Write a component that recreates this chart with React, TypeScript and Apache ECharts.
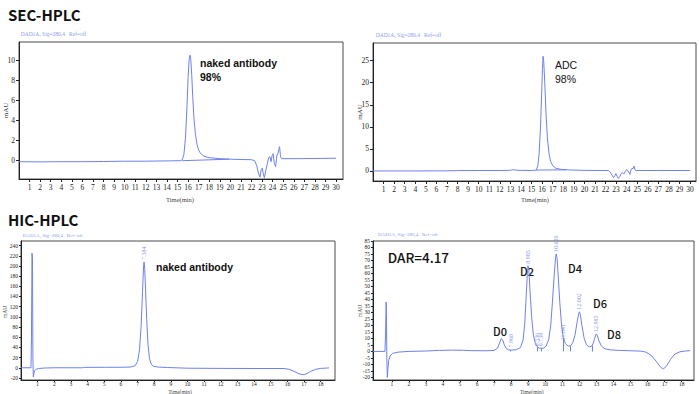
import React, { useEffect, useRef } from "react";
import * as echarts from "echarts";

// SEC-HPLC naked antibody: [time(min), mAU]
const secNaked: number[][] = [
  [0, -0.1], [2, -0.12], [4, -0.1], [6, -0.1], [8, -0.08], [10, -0.05], [12, -0.05], [14, -0.02],
  [15.3, 0], [15.45, 0.1], [15.6, 0.6], [15.75, 2.2], [15.9, 5.5], [16.0, 8.3], [16.1, 10.1],
  [16.18, 10.55], [16.25, 10.2], [16.35, 8.5], [16.45, 6.2], [16.55, 4.3], [16.7, 2.6], [16.85, 1.6],
  [17.0, 1.05], [17.2, 0.7], [17.5, 0.45], [18.0, 0.3], [19.0, 0.2], [20.0, 0.15], [21.0, 0.12],
  [22.0, 0.1], [22.3, 0.0], [22.5, -0.5], [22.65, -1.2], [22.8, -1.65], [22.92, -0.9], [23.02, -0.75],
  [23.12, -1.3], [23.22, -1.7], [23.35, -1.0], [23.5, -0.3], [23.62, 0.3], [23.75, 0.4], [23.85, -0.1],
  [23.95, 0.5], [24.05, 0.7], [24.15, -0.2], [24.28, -0.6], [24.4, 0.5], [24.5, 0.7], [24.58, 1.1],
  [24.66, 1.4], [24.75, 0.4], [24.85, 0.2], [26, 0.2], [28, 0.22], [30, 0.25],
];
const secNakedBase: number[][] = [[15.45, 0.0], [19.9, 0.15]];

// SEC-HPLC ADC
const secAdc: number[][] = [
  [0, 0], [4, 0], [7, 0.02], [8, 0.08], [10, 0.1], [12, 0.1], [13, 0.15], [13.3, 0.3], [13.6, 0.15],
  [15, 0.1], [15.45, 0.2], [15.6, 1.2], [15.72, 4], [15.85, 10], [15.95, 17], [16.03, 23], [16.09, 26],
  [16.15, 25], [16.25, 20], [16.37, 13], [16.5, 7.5], [16.65, 4], [16.8, 2.2], [17.0, 1.2], [17.3, 0.6],
  [17.8, 0.35], [18.5, 0.25], [19.5, 0.15], [21, 0.1], [22.3, 0.1], [22.45, -0.3], [22.6, -0.9],
  [22.75, -1.5], [22.88, -1.1], [22.98, -0.6], [23.1, -1.2], [23.22, -1.7], [23.35, -1.3], [23.48, -0.6],
  [23.6, -0.4], [23.72, -0.7], [23.85, -0.2], [23.98, 0.3], [24.1, 0.1], [24.2, -0.3], [24.3, -0.8],
  [24.4, 0.2], [24.5, 0.6], [24.6, 0.5], [24.7, 1.1], [24.78, 0.3], [24.9, 0.1], [27, 0.1], [30, 0.1],
];
const secAdcBase: number[][] = [[15.45, 0.2], [18.3, 0.25]];

// HIC-HPLC naked antibody
const hicNaked: number[][] = [
  [0, 0], [0.6, 0], [0.63, 60], [0.66, 225], [0.69, 215], [0.715, 20], [0.74, -18], [0.77, -12],
  [0.82, -6], [0.9, -3], [1.05, -1.5], [1.4, -0.5], [2, 0], [3.7, 0], [3.8, 0.8], [5, 1], [6, 1],
  [6.6, 1.5], [6.85, 4], [7.0, 12], [7.12, 35], [7.22, 85], [7.3, 150], [7.36, 198], [7.39, 208],
  [7.43, 195], [7.48, 155], [7.55, 95], [7.63, 45], [7.72, 18], [7.82, 7], [7.95, 3], [8.2, 1.5],
  [8.8, 0.5], [10, -0.8], [12, -1.2], [14, -1.4], [15.8, -1.5], [16.1, -3], [16.4, -7], [16.7, -12],
  [16.95, -13.5], [17.15, -12], [17.4, -7], [17.7, -3], [18.0, -1.2], [18.5, -0.3],
];
const hicNakedPeaks: (number | string)[][] = [[7.384, 208, "7.384"]];

// HIC-HPLC ADC
const hicAdc: number[][] = [
  [-0.1, 0], [0.6, 0], [0.64, 15], [0.67, 38], [0.69, 30], [0.71, -5], [0.74, -20], [0.77, -14],
  [0.82, -7], [0.9, -3.5], [1.05, -1.5], [1.4, -0.5], [2, 0], [3, 0.3], [3.8, 0.8], [4.5, 1], [5.2, 0.9],
  [5.6, 0.6], [6.5, 0.5], [7.0, 0.8], [7.2, 2.5], [7.32, 6.5], [7.42, 10], [7.5, 9], [7.6, 5], [7.72, 2.2],
  [7.85, 1.2], [8.0, 1], [8.3, 1.3], [8.55, 3], [8.7, 9], [8.8, 22], [8.88, 42], [8.95, 60], [8.99, 66],
  [9.04, 62], [9.1, 48], [9.2, 27], [9.3, 13], [9.42, 6], [9.55, 3.5], [9.65, 2.5], [9.75, 2.5], [9.9, 2.5],
  [10.05, 4], [10.2, 9], [10.32, 20], [10.42, 38], [10.52, 58], [10.6, 72], [10.64, 75], [10.69, 72],
  [10.76, 58], [10.85, 38], [10.95, 21], [11.05, 11], [11.18, 6], [11.35, 4], [11.5, 4.5], [11.62, 7],
  [11.75, 13], [11.87, 23], [11.96, 29], [12.0, 30.5], [12.06, 28], [12.15, 20], [12.28, 10], [12.42, 5],
  [12.58, 3.5], [12.72, 4], [12.82, 6.5], [12.92, 11], [12.99, 13.5], [13.05, 12.5], [13.15, 8], [13.3, 4],
  [13.5, 2], [13.8, 1.2], [14.3, 0.8], [15, 0.5], [15.6, 0.2], [15.9, -0.5], [16.2, -3], [16.5, -7.5],
  [16.75, -12], [16.92, -13.5], [17.1, -11.5], [17.35, -6], [17.6, -2], [17.9, -0.3], [18.2, 0.3], [18.5, 0.6],
];
const hicAdcPeaks: (number | string)[][] = [
  [7.968, 1.5, "7.968"], [8.985, 66, "8.985"], [9.536, 2.5, "9.536"], [9.739, 2.5, "9.739"],
  [10.62, 75, "10.620"], [11.041, 7, "11.041"], [12.002, 30.5, "12.002"], [12.985, 13.5, "12.985"],
];
const hicAdcDrops: number[][] = [[7.968, 1.2], [9.536, 3.3], [9.739, 2.5], [11.041, 10], [11.45, 4], [12.78, 4.5]];

const secTicks = Array.from({ length: 30 }, (_, i) => i + 1);
const hicTicks = Array.from({ length: 18 }, (_, i) => i + 1);
const y1Ticks = [0, 2, 4, 6, 8, 10];
const y2Ticks = [0, 5, 10, 15, 20, 25];
const y3Ticks = [-20, 0, 20, 40, 60, 80, 100, 120, 140, 160, 180, 200, 220, 240];
const y4Ticks = [-20, -15, -10, -5, 0, 5, 10, 15, 20, 25, 30, 35, 40, 45, 50, 55, 60, 65, 70, 75, 80, 85];

const LINE = "#6d82ea";
const HDR = "DAD1A, Sig=280,4   Ref=off";
const SERIF = "'Liberation Serif', 'DejaVu Serif', serif";
const SANS = "'Noto Sans CJK SC', 'Noto Sans', sans-serif";
const ARIAL = "'Liberation Sans', Arial, sans-serif";

export default function App() {
  const ref = useRef<HTMLDivElement>(null);
  useEffect(() => {
    const chart = echarts.init(ref.current!, null, { renderer: "svg" });
    const grids = [
      { left: 19, top: 42, width: 324, height: 137 },
      { left: 373, top: 43, width: 323, height: 138 },
      { left: 21, top: 241, width: 314, height: 139 },
      { left: 373, top: 241, width: 321, height: 139 },
    ].map((g) => ({ ...g, show: true, borderColor: "#4a4a4a", borderWidth: 1, outerBoundsMode: "none", containLabel: false }));

    const xAx = (i: number, min: number, max: number, ticks: number[], fs: number, tl: number, mg: number) => ({
      type: "value", gridIndex: i, min, max,
      axisLine: { show: true, onZero: false, lineStyle: { color: "#222", width: 1 } },
      axisTick: { show: true, customValues: ticks, length: tl, lineStyle: { color: "#222" } },
      axisLabel: { customValues: ticks, fontSize: fs, fontFamily: SERIF, color: "#222", margin: mg },
      splitLine: { show: false },
    });
    const yAx = (i: number, min: number, max: number, ticks: number[], fs: number, tl: number, mg: number) => ({
      type: "value", gridIndex: i, min, max,
      axisLine: { show: true, onZero: false, lineStyle: { color: "#222", width: 1 } },
      axisTick: { show: true, customValues: ticks, length: tl, lineStyle: { color: "#222" } },
      axisLabel: { customValues: ticks, fontSize: fs, fontFamily: SERIF, color: "#222", margin: mg },
      splitLine: { show: false },
    });

    const line = (i: number, data: number[][], extra: any = {}) => ({
      type: "line", xAxisIndex: i, yAxisIndex: i, data, showSymbol: false, symbol: "none",
      lineStyle: { color: LINE, width: 1 }, silent: true, ...extra,
    });
    const peakLabels = (i: number, data: (number | string)[][]) => ({
      type: "scatter", xAxisIndex: i, yAxisIndex: i, data, symbolSize: 0, silent: true,
      label: {
        show: true, position: "top", rotate: 90, distance: 2, align: "left", verticalAlign: "middle",
        formatter: (p: any) => p.value[2], fontSize: 6, fontFamily: SERIF, color: "#5f74e4",
      },
    });

    const txt = (x: number, y: number, text: string, font: string, fill: string) => ({
      type: "text", x, y, silent: true,
      style: { text, font, fill, align: "left", verticalAlign: "middle" },
    });
    const vtxt = (x: number, y: number, text: string, font: string) => ({
      type: "text", x, y, rotation: Math.PI / 2, silent: true,
      style: { text, font, fill: "#333", align: "center", verticalAlign: "middle" },
    });
    const ctxt = (x: number, y: number, text: string, font: string) => ({
      type: "text", x, y, silent: true,
      style: { text, font, fill: "#444", align: "center", verticalAlign: "middle" },
    });

    const option: any = {
      animation: false,
      backgroundColor: "#ffffff",
      grid: grids,
      xAxis: [
        xAx(0, 0, 30.66, secTicks, 7.5, 3, 4),
        xAx(1, 0, 30.56, secTicks, 7.5, 3, 4),
        xAx(2, 0, 18.86, hicTicks, 5.5, 2, 1),
        xAx(3, -0.1, 18.72, hicTicks, 5.5, 2, 1),
      ],
      yAxis: [
        yAx(0, -1.83, 11.87, y1Ticks, 7.5, 3, 4),
        yAx(1, -2.28, 29.0, y2Ticks, 7.5, 3, 4),
        yAx(2, -24, 249, y3Ticks, 5.5, 2, 3),
        yAx(3, -22, 85, y4Ticks, 5.5, 2, 3),
      ],
      series: [
        line(0, secNaked),
        line(0, secNakedBase),
        line(1, secAdc),
        line(1, secAdcBase),
        line(2, hicNaked),
        peakLabels(2, hicNakedPeaks),
        line(3, hicAdc, {
          markLine: {
            silent: true, symbol: "none", label: { show: false },
            lineStyle: { color: LINE, width: 1, type: "solid" },
            data: hicAdcDrops.map((d) => [{ coord: [d[0], 0] }, { coord: [d[0], d[1]] }]),
          },
        }),
        peakLabels(3, hicAdcPeaks),
      ],
      graphic: [
        txt(8, 14, "SEC-HPLC", `bold 15px ${SANS}`, "#111"),
        txt(8, 219, "HIC-HPLC", `bold 15px ${SANS}`, "#111"),
        txt(20.7, 33.5, HDR, `5.5px ${SERIF}`, "#8b9cec"),
        txt(375.7, 34.5, HDR, `5.5px ${SERIF}`, "#8b9cec"),
        txt(22.7, 235.7, HDR, `5px ${SERIF}`, "#8b9cec"),
        txt(378, 234.5, HDR, `5px ${SERIF}`, "#8b9cec"),
        vtxt(6, 110.5, "mAU", `7px ${SERIF}`),
        vtxt(360, 112, "mAU", `7px ${SERIF}`),
        vtxt(5, 312, "mAU", `5.5px ${SERIF}`),
        vtxt(360, 311, "mAU", `5.5px ${SERIF}`),
        ctxt(180, 199, "Time(min)", `6.5px ${SERIF}`),
        ctxt(535, 199, "Time(min)", `6.5px ${SERIF}`),
        ctxt(180, 391.5, "Time(min)", `5.5px ${SERIF}`),
        ctxt(531.7, 391.5, "Time(min)", `5.5px ${SERIF}`),
        txt(200, 63, "naked antibody", `bold 10.5px ${ARIAL}`, "#111"),
        txt(200, 77, "98%", `bold 10.5px ${ARIAL}`, "#111"),
        txt(555, 65, "ADC", `10.5px ${ARIAL}`, "#111"),
        txt(555, 78.5, "98%", `10.5px ${ARIAL}`, "#111"),
        txt(156, 266.7, "naked antibody", `bold 10.5px ${ARIAL}`, "#111"),
        txt(387.7, 257, "DAR=4.17", `500 13.5px ${SANS}`, "#111"),
        txt(493, 330.8, "D0", `500 11px ${SANS}`, "#111"),
        txt(520, 271.3, "D2", `500 11px ${SANS}`, "#111"),
        txt(568, 267.5, "D4", `500 11px ${SANS}`, "#111"),
        txt(593, 302.5, "D6", `500 11px ${SANS}`, "#111"),
        txt(607, 334, "D8", `500 11px ${SANS}`, "#111"),
      ],
    };
    chart.setOption(option);
    return () => chart.dispose();
  }, []);
  return (
    <div
      ref={ref}
      style={{ position: "fixed", left: 0, top: 0, width: 700, height: 394, background: "#fff" }}
    />
  );
}
